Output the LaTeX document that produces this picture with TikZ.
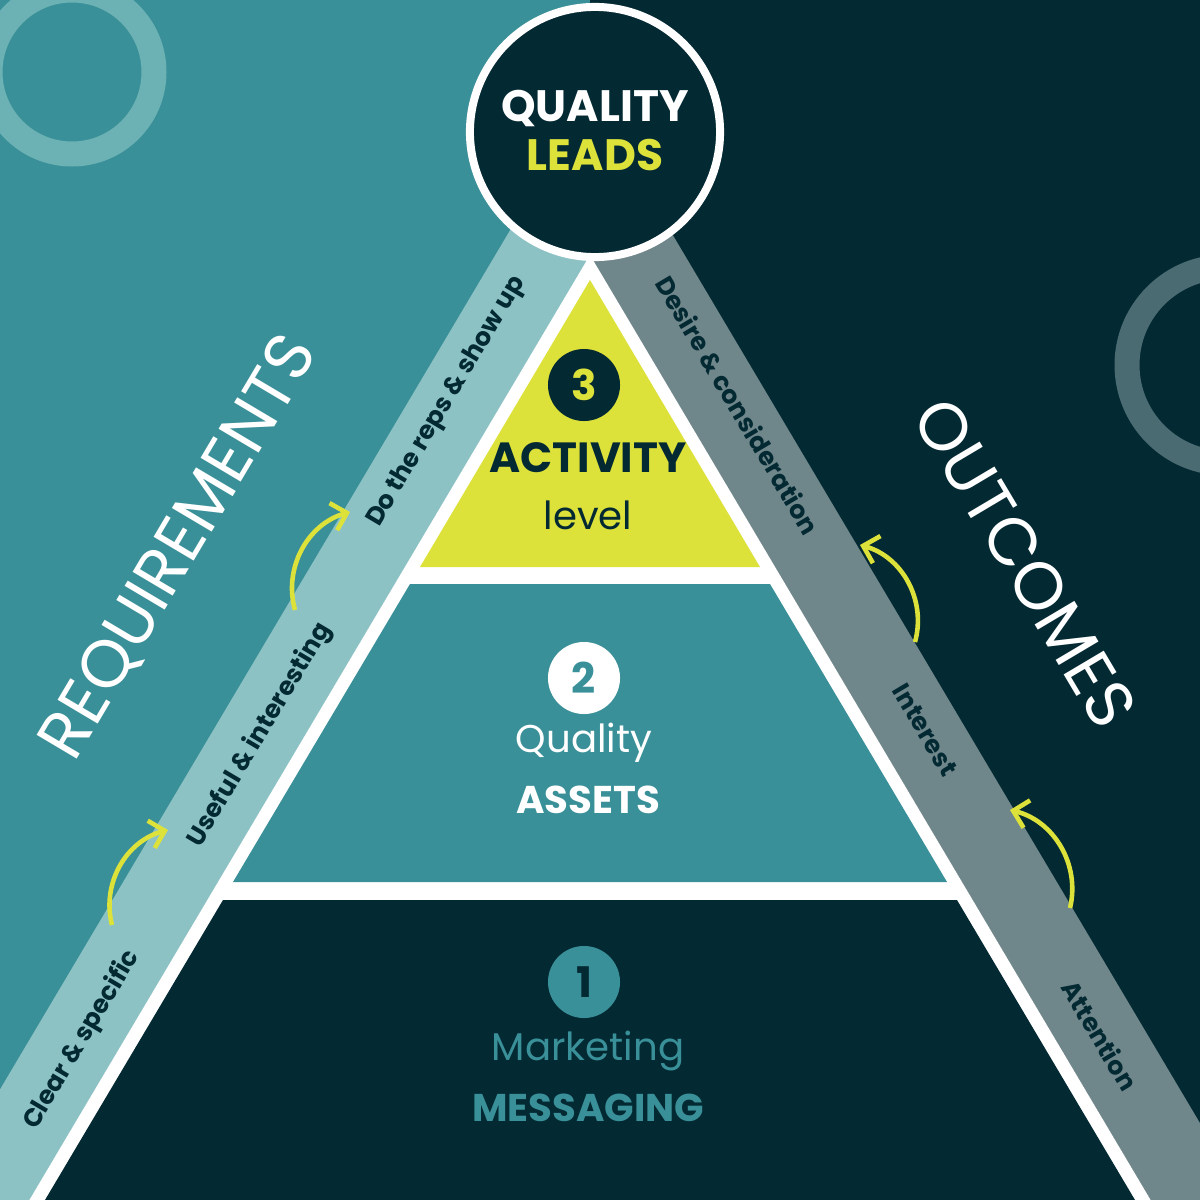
\documentclass[tikz,border=0pt]{standalone}
\usepackage{fontspec}
\setmainfont{Poppins}
\usetikzlibrary{arrows.meta, positioning}
\definecolor{teal}{HTML}{3A9098}
\definecolor{navy}{HTML}{032933}
\definecolor{lightband}{HTML}{8DC2C5}
\definecolor{greyband}{HTML}{6F868A}
\definecolor{lime}{HTML}{DDE23B}
\definecolor{ringL}{HTML}{6CB2B5}
\definecolor{ringR}{HTML}{4A6B71}
\begin{document}
\begin{tikzpicture}[x=0.01cm, y=-0.01cm,
    % band labels along the slopes
    band/.style={font=\fontsize{7.2}{8}\selectfont\bfseries, text=navy},
    % big side titles
    side/.style={font=\fontsize{19}{20}\selectfont, text=white},
    % numbered discs
    num/.style={circle, minimum size=0.72cm, inner sep=0, font=\fontsize{12}{13}\selectfont\bfseries},
    % text inside the layers
    word/.style={font=\fontsize{11}{12}\selectfont},
    flow/.style={draw=lime, line width=1.3pt, -{Straight Barb[length=4pt, width=8pt]}}
  ]
  \useasboundingbox (0,0) rectangle (1200,1200);
  \clip (0,0) rectangle (1200,1200);

  % --- background halves and rings ---
  \fill[teal] (0,0) rectangle (590,1200);
  \fill[navy] (590,0) rectangle (1200,1200);
  \draw[ringL, line width=25*0.01cm] (72,72) circle (82);
  \draw[ringR, line width=25*0.01cm] (1225,365) circle (98);

  % --- slope bands ---
  \fill[lightband] (623,200) -- (-30,1300) -- (-125,1300) -- (528,200) -- cycle;
  \fill[greyband] (557,200) -- (1210,1300) -- (1305,1300) -- (652,200) -- cycle;

  % --- pyramid ---
  \fill[white] (590,255) -- (-30,1300) -- (1210,1300) -- cycle;
  \fill[lime] (590,280) -- (420,567) -- (760,567) -- cycle;
  \fill[teal] (410,584) -- (233,882) -- (947,882) -- (770,584) -- cycle;
  \fill[navy] (223,900) -- (45,1200) -- (1135,1200) -- (957,900) -- cycle;

  % --- top disc ---
  \node[circle, fill=navy, draw=white, line width=8*0.01cm, minimum size=2.5cm] (leads) at (595,132) {};
  \node[font=\fontsize{12.5}{13}\selectfont\bfseries, text=white] (quality) at (595,108) {QUALITY};
  \node[font=\fontsize{12.5}{13}\selectfont\bfseries, text=lime] (leadsword) at (595,155) {LEADS};

  % --- layer 3 ---
  \node[num, fill=navy, text=lime] (n3) at (584,385) {3};
  \node[word, font=\fontsize{12}{13}\selectfont\bfseries, text=navy] (activity) at (588,458) {ACTIVITY};
  \node[word, text=navy] (level) at (588,515) {level};

  % --- layer 2 ---
  \node[num, fill=white, text=teal] (n2) at (584,678) {2};
  \node[word, text=white] (qual) at (584,743) {Quality};
  \node[word, font=\fontsize{11}{12}\selectfont\bfseries, text=white] (assets) at (588,800) {ASSETS};

  % --- layer 1 ---
  \node[num, fill=teal, text=navy] (n1) at (584,982) {1};
  \node[word, text=teal] (marketing) at (588,1051) {Marketing};
  \node[word, font=\fontsize{11}{12}\selectfont\bfseries, text=teal] (messaging) at (588,1108) {MESSAGING};

  % --- band labels ---
  \node[band, rotate=59.3] (clear) at (82,1040) {Clear \& specific};
  \node[band, rotate=59.3] (useful) at (260,735) {Useful \& interesting};
  \node[band, rotate=59.3] (reps) at (447,402) {Do the reps \& show up};
  \node[band, rotate=-59.3] (desire) at (738,405) {Desire \& consideration};
  \node[band, rotate=-59.3] (interest) at (925,730) {Interest};
  \node[band, rotate=-59.3] (attention) at (1100,1035) {Attention};

  \node[side, rotate=59.3] (req) at (180,548) {REQUIREMENTS};
  \node[side, rotate=-59.3] (out) at (1025,563) {OUTCOMES};

  % --- arrows between steps ---
  \coordinate (a1) at (112,925); \coordinate (b1) at (168,830);
  \coordinate (a2) at (295,610); \coordinate (b2) at (350,512);
  \coordinate (a3) at (1070,908); \coordinate (b3) at (1010,810);
  \coordinate (a4) at (915,642); \coordinate (b4) at (860,545);
  \draw[flow] (a1) to[bend left=45] (b1);
  \draw[flow] (a2) to[bend left=45] (b2);
  \draw[flow] (a3) to[bend right=45] (b3);
  \draw[flow] (a4) to[bend right=45] (b4);
\end{tikzpicture}
\end{document}
